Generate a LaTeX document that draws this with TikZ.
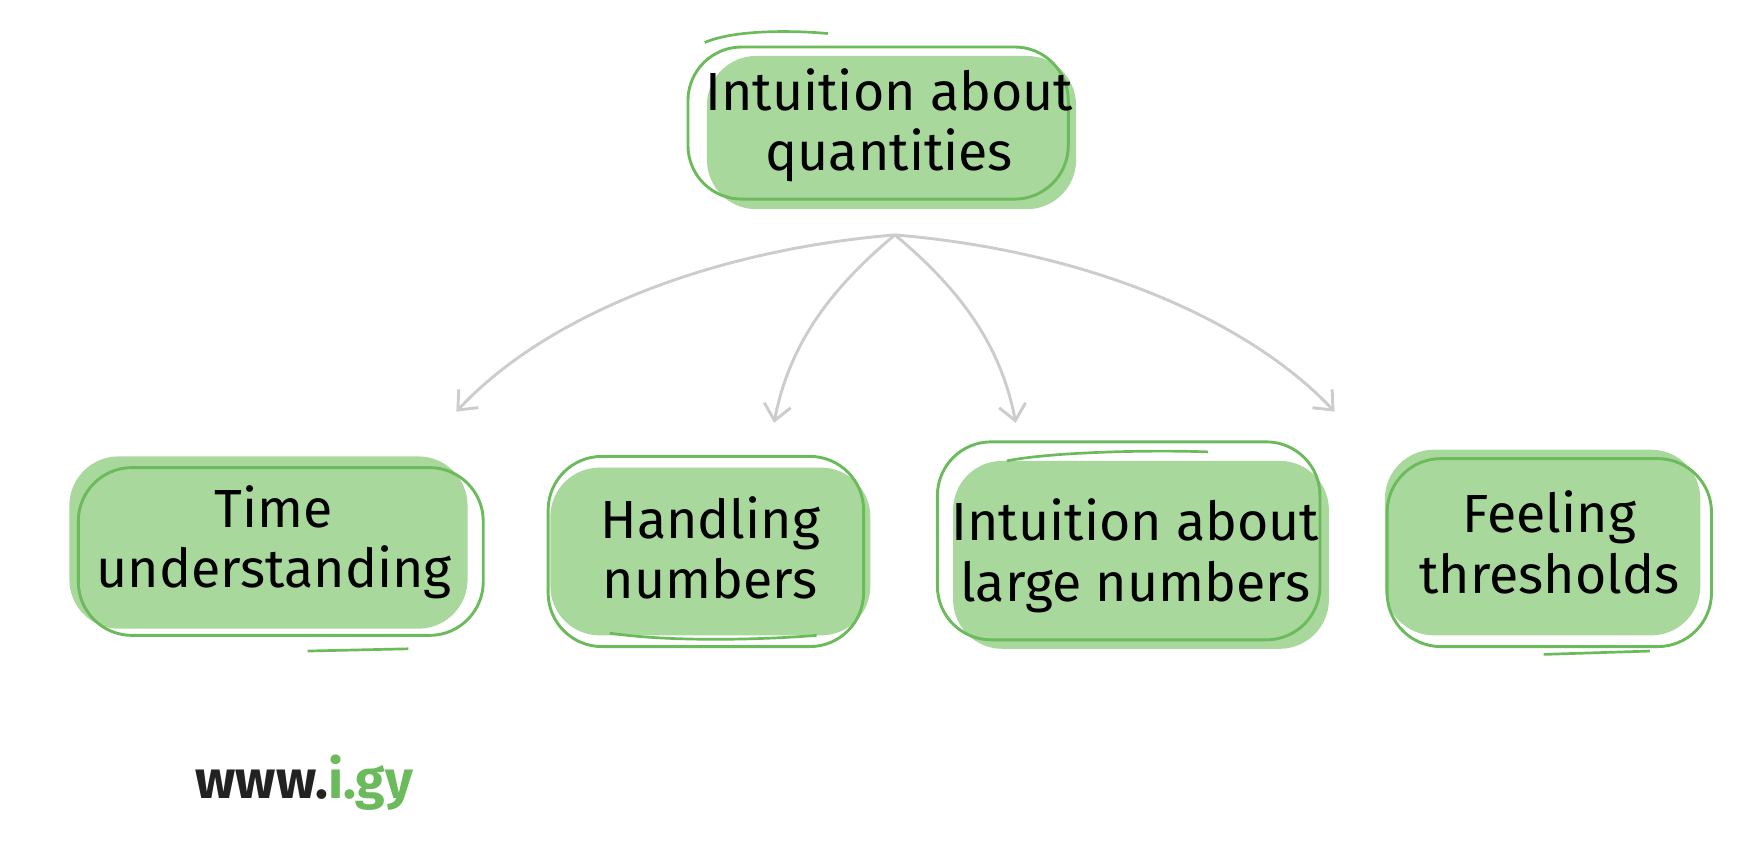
\documentclass[tikz,border=0pt]{standalone}
\usepackage{fontspec}
\setmainfont{Fira Sans}
\usetikzlibrary{arrows.meta}
\definecolor{gfill}{HTML}{A9D89C}
\definecolor{gline}{HTML}{6BBA5B}
\definecolor{arr}{HTML}{CCCCCC}
\definecolor{dark}{HTML}{222222}
\tikzset{
  blob/.style={fill=gfill,rounded corners=22pt},
  ring/.style={draw=gline,line width=1.3pt,rounded corners=24pt},
  lbl/.style={font=\fontsize{24}{27}\selectfont,align=center,text=black},
  conn/.style={draw=arr,line width=1.3pt,-{Straight Barb[length=7pt,width=12pt]}},
}
\begin{document}
\begin{tikzpicture}[x=0.5pt,y=-0.5pt]
\useasboundingbox (0,0) rectangle (1568,755);
% top
\fill[blob] (632,50) rectangle (962,187);
\draw[ring] (615,42) rectangle (955,178);
\draw[gline,line width=1.2pt] (630,38) .. controls (660,25) and (720,28) .. (740,30);
\node[lbl] (top) at (795,112) {Intuition about\\quantities};
% time
\fill[blob] (62,408) rectangle (418,562);
\draw[ring] (70,418) rectangle (432,568);
\draw[gline,line width=1.2pt] (275,582) -- (365,580);
\node[lbl] (t) at (245,485) {Time\\understanding};
% handling
\fill[blob] (492,418) rectangle (778,568);
\draw[ring] (490,408) rectangle (772,578);
\draw[gline,line width=1.2pt] (545,566) .. controls (600,574) and (680,572) .. (730,568);
\node[lbl] (h) at (635,490) {Handling\\numbers};
% large
\fill[blob] (852,412) rectangle (1188,580);
\draw[ring] (838,395) rectangle (1180,572);
\draw[gline,line width=1.2pt] (900,412) .. controls (940,404) and (1030,402) .. (1080,404);
\node[lbl] (l) at (1015,497) {Intuition about\\large numbers};
% feeling
\fill[blob] (1238,402) rectangle (1520,568);
\draw[ring] (1240,410) rectangle (1530,578);
\draw[gline,line width=1.2pt] (1380,585) -- (1475,582);
\node[lbl] (f) at (1385,485) {Feeling\\thresholds};
% arrows
\coordinate (o) at (800,210);
\coordinate (e1) at (408,368);
\coordinate (e2) at (692,378);
\coordinate (e3) at (908,378);
\coordinate (e4) at (1193,368);
\draw[conn] (o) .. controls (620,225) and (480,290) .. (e1);
\draw[conn] (o) .. controls (740,260) and (705,310) .. (e2);
\draw[conn] (o) .. controls (860,260) and (895,310) .. (e3);
\draw[conn] (o) .. controls (980,225) and (1120,290) .. (e4);
\node[font=\bfseries\fontsize{24}{27}\selectfont] (w) at (272,700) {\textcolor{dark}{www.}\textcolor{gline}{i.gy}};
\end{tikzpicture}
\end{document}
